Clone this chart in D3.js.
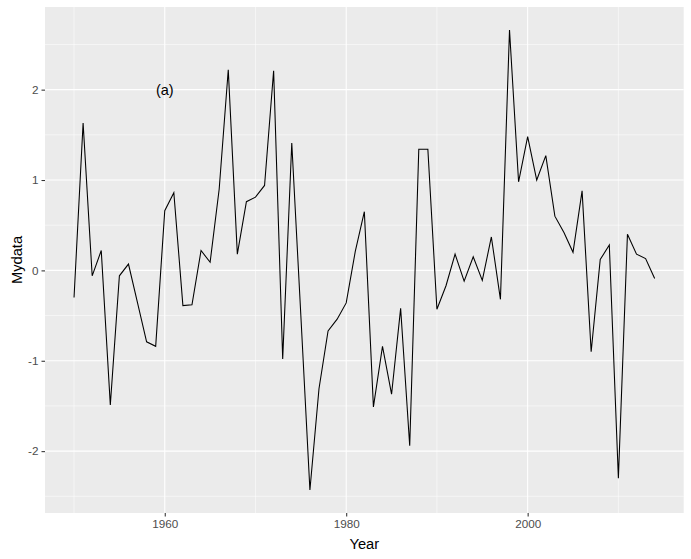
<!DOCTYPE html>
<html><head><meta charset="utf-8">
<script src="https://cdn.jsdelivr.net/npm/d3@7"></script>
<style>body{margin:0;background:#fff}svg{display:block}text{font-family:"Liberation Sans",Arial,sans-serif}</style>
</head><body><svg id="c" width="691" height="559"></svg>
<script>
const years = d3.range(1950, 2015);
const values = [-0.30, 1.63, -0.06, 0.22, -1.49, -0.06, 0.07, -0.36, -0.79, -0.84,
  0.66, 0.86, -0.39, -0.38, 0.22, 0.09, 0.90, 2.22, 0.18, 0.76,
  0.81, 0.94, 2.21, -0.98, 1.41, -0.50, -2.43, -1.31, -0.67, -0.54,
  -0.36, 0.21, 0.65, -1.51, -0.84, -1.37, -0.42, -1.94, 1.34, 1.34,
  -0.43, -0.17, 0.18, -0.12, 0.15, -0.11, 0.37, -0.32, 2.66, 0.98,
  1.48, 1.00, 1.27, 0.60, 0.42, 0.20, 0.88, -0.90, 0.12, 0.28,
  -2.30, 0.40, 0.18, 0.13, -0.09];
const xBreaks = [1960, 1980, 2000];
const xMinor = [1950, 1970, 1990, 2010];
const yBreaks = [-2, -1, 0, 1, 2];
const yMinor = [-2.5, -1.5, -0.5, 0.5, 1.5, 2.5];
const annotation = {label: "(a)", x: 1960, y: 2};
const xTitle = "Year", yTitle = "Mydata";

const svg = d3.select("#c");
const L = 45, R = 683.7, T = 7, B = 513;
const xr = d3.extent(years), xe = (xr[1]-xr[0])*0.05;
const yr = d3.extent(values), ye = (yr[1]-yr[0])*0.05;
const x = d3.scaleLinear().domain([xr[0]-xe, xr[1]+xe]).range([L, R]);
const y = d3.scaleLinear().domain([yr[0]-ye, yr[1]+ye]).range([B, T]);

svg.append("rect").attr("x", L).attr("y", T).attr("width", R-L).attr("height", B-T).attr("fill", "#EBEBEB");
const g = svg.append("g");
g.selectAll(".ymin").data(yMinor).join("line").attr("x1", L).attr("x2", R)
  .attr("y1", d=>y(d)).attr("y2", d=>y(d)).attr("stroke", "#fff").attr("stroke-width", 0.53);
g.selectAll(".xmin").data(xMinor).join("line").attr("y1", T).attr("y2", B)
  .attr("x1", d=>x(d)).attr("x2", d=>x(d)).attr("stroke", "#fff").attr("stroke-width", 0.53);
g.selectAll(".ymaj").data(yBreaks).join("line").attr("x1", L).attr("x2", R)
  .attr("y1", d=>y(d)).attr("y2", d=>y(d)).attr("stroke", "#fff").attr("stroke-width", 1.07);
g.selectAll(".xmaj").data(xBreaks).join("line").attr("y1", T).attr("y2", B)
  .attr("x1", d=>x(d)).attr("x2", d=>x(d)).attr("stroke", "#fff").attr("stroke-width", 1.07);

const line = d3.line().x((d,i)=>x(years[i])).y(d=>y(d));
svg.append("path").datum(values).attr("d", line).attr("fill", "none").attr("stroke", "#000").attr("stroke-width", 1.07);

svg.append("text").attr("x", x(annotation.x)).attr("y", y(annotation.y)).attr("dy", "0.35em")
  .attr("text-anchor", "middle").attr("font-size", 14.5).attr("fill", "#000").text(annotation.label);

const xAxis = svg.append("g").attr("transform", `translate(0,${B})`)
  .call(d3.axisBottom(x).tickValues(xBreaks).tickFormat(d3.format("d")).tickSize(3.5).tickPadding(3));
const yAxis = svg.append("g").attr("transform", `translate(${L},0)`)
  .call(d3.axisLeft(y).tickValues(yBreaks).tickFormat(d=>d===0?"0":d3.format("d")(d).replace("−","-")).tickSize(3.5).tickPadding(3));
[xAxis, yAxis].forEach(a=>{
  a.select(".domain").remove();
  a.selectAll(".tick line").attr("stroke", "#333").attr("stroke-width", 1.07);
  a.selectAll(".tick text").attr("fill", "#4D4D4D").attr("font-size", 11.7).attr("font-family", '"Liberation Sans",Arial,sans-serif');
});

svg.append("text").attr("x", (L+R)/2).attr("y", 549).attr("text-anchor", "middle")
  .attr("font-size", 14.7).attr("fill", "#000").text(xTitle);
svg.append("text").attr("transform", `translate(22,${(T+B)/2}) rotate(-90)`).attr("text-anchor", "middle")
  .attr("font-size", 14.7).attr("fill", "#000").text(yTitle);
</script></body></html>
